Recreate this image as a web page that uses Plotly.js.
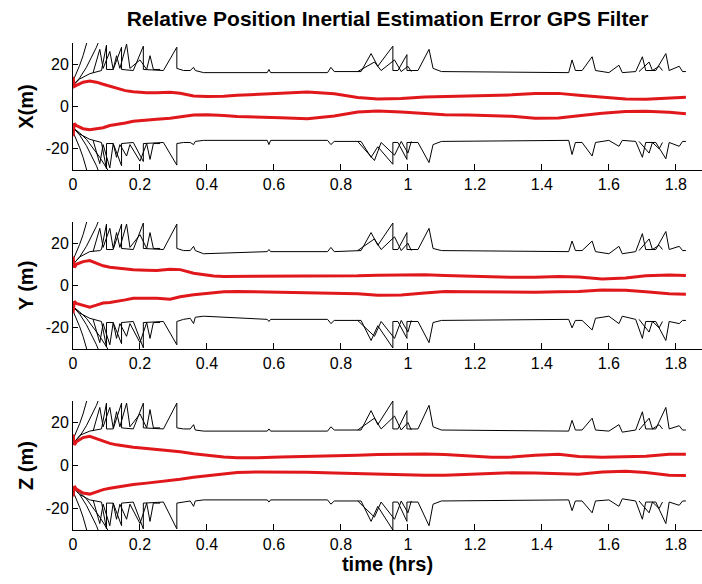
<!DOCTYPE html>
<html>
<head>
<meta charset="utf-8">
<script src="https://cdn.plot.ly/plotly-3.0.1.min.js"></script>
<style>html,body{margin:0;padding:0;background:#fff;}#chart{width:702px;height:584px;}</style>
</head>
<body>
<div id="chart"></div>
<script>
// ---------- shared time bases (hrs) ----------
const mainT = [0, 0.02, 0.05, 0.08, 0.085, 0.1, 0.1, 0.12, 0.145, 0.145, 0.18, 0.21, 0.21, 0.27, 0.31, 0.31, 0.33, 0.35, 0.36, 0.365, 0.39, 0.58, 0.585, 0.59, 0.76, 0.77, 0.78, 0.86, 0.89, 0.91, 0.955, 0.955, 0.97, 0.997, 0.997, 1.03, 1.063, 1.075, 1.1, 1.48, 1.49, 1.5, 1.52, 1.55, 1.56, 1.6, 1.63, 1.64, 1.68, 1.7, 1.71, 1.74, 1.77, 1.78, 1.81, 1.82, 1.83];
const secT = [0.06, 0.08, 0.09, 0.11, 0.12, 0.13, 0.14, 0.16, 0.17, 0.2, 0.22, 0.23, 0.24, 0.26, null, 0.85, 0.9, 0.92, 0.96, 0.98, 1.0, 1.01, null, 1.69, 1.72, 1.73, 1.75, 1.76];
const divTA = [0, 0.01, 0.02, 0.03, 0.04, 0.05];
const divTB = [0, 0.02, 0.04, 0.06, 0.07, 0.08];
const divTC = [0, 0.02, 0.04, 0.06, 0.08, 0.1, 0.12];
const redT = [0, 0.004, 0.01, 0.03, 0.05, 0.07, 0.09, 0.11, 0.13, 0.156, 0.18, 0.22, 0.25, 0.29, 0.32, 0.36, 0.4, 0.42, 0.45, 0.49, 0.55, 0.62, 0.7, 0.78, 0.85, 0.91, 0.98, 1.05, 1.11, 1.18, 1.25, 1.31, 1.38, 1.45, 1.51, 1.58, 1.65, 1.71, 1.78, 1.83];

// ---------- early diverging curves (m) ----------
const divUpA = [12, 15.5, 19.5, 24, 29, 35];
const divUpB = [10, 13.5, 18.5, 24.5, 28, 32];
const divLowA = [-12, -15.5, -19.5, -24, -29, -35];
const divLowB = [-10, -13.5, -18.5, -24.5, -28, -32];
const divLowC = [-10, -12.5, -15.5, -19.5, -24, -29, -34];

// ---------- X ----------
const xUpMain = [10, 13, 15.5, 16.5, 17, 29, 17.5, 17.5, 28, 17.5, 17, 28.5, 17.5, 17, 28, 18, 17, 17, 18.5, 17, 16, 16, 17.5, 16, 16, 18.5, 16.5, 16.5, 25, 19, 28.5, 17, 17, 24.5, 17, 17, 27, 18, 16.5, 16, 22, 17, 17, 23.5, 17, 16, 19.5, 16, 16.5, 23.5, 17, 17, 25, 17, 19, 16.5, 16.5];
const xUpSec = [16, 27, 18, 26, 17.5, 24, 18, 29.5, 18, 22, 17.5, 24, 17.5, 17.5, null, 16.5, 21, 17, 22, 16.5, 19, 16.5, null, 16.5, 21, 17, 19, 17];
const xLowMain = [-10, -13, -15.5, -16.5, -17, -29.5, -17.5, -17.5, -28, -17.5, -17, -26, -17.5, -17, -27.7, -17.5, -17, -17, -18, -16.5, -16, -16, -18, -16, -16, -18, -16.5, -16.5, -24, -19, -27.3, -17, -17, -25, -17, -17, -26.5, -18, -16.5, -16, -22.7, -17, -17, -23.4, -17, -16, -18.8, -16, -16.5, -24, -17, -17, -24.7, -17, -18.8, -16.5, -16.5];
const xLowSec = [-16, -27, -18, -29, -17.5, -24, -18, -23.4, -18, -25.8, -17.5, -25, -17.5, -17.5, null, -16.5, -25.5, -17, -23, -16.5, -22, -16.5, null, -16.5, -22, -17, -20, -17];
const xRedUp = [14, 9.5, 10, 11.5, 12, 11.5, 10.5, 9.5, 8.6, 7.5, 7, 6.5, 6.5, 6.7, 6.3, 5, 4.7, 4.7, 4.8, 5.3, 5.8, 6.4, 6.8, 6, 4.3, 3.5, 3.8, 4.5, 4.8, 4.8, 5.2, 5.5, 6.2, 6.2, 5.3, 4.3, 3.6, 3.4, 3.8, 4.4];
const xRedLow = [-14, -8, -9, -10.5, -11, -10.5, -10, -9, -8.6, -7.8, -7, -6.3, -6, -5.5, -5, -4, -3.9, -3.9, -4.2, -4.7, -4.9, -5.3, -5.8, -4.5, -2.6, -2.1, -2.6, -3.4, -3.9, -4, -4.2, -4.6, -5.5, -5.4, -4.4, -3.2, -2.4, -2.2, -2.7, -3.4];

// ---------- Y ----------
const yUpMain = [10, 13.5, 16, 16.5, 17, 29, 17, 17, 29, 17.5, 17, 29.5, 17.5, 17, 29, 17.5, 16.5, 16.5, 18.5, 16.5, 15, 16, 17, 16, 16, 18, 16, 16.5, 25, 19, 29.5, 17, 17, 25, 17, 17, 27, 17.5, 16.5, 16, 21, 16.5, 16.5, 21, 16, 15, 18.5, 15, 16, 24.5, 17, 17, 25.5, 17, 18.5, 16.5, 16.5];
const yUpSec = [16, 27, 18, 27, 17.5, 25, 18, 29, 18, 24, 17.5, 25, 17.5, 17.5, null, 16.5, 22, 17, 23, 16.5, 20, 16.5, null, 16.5, 22, 17, 19, 17];
const yLowMain = [-10, -13, -15.5, -16.5, -17, -29, -17.5, -17.5, -27.5, -17.5, -17, -29.5, -17.5, -17, -28, -17, -16, -15.5, -18, -15, -14.5, -16, -17, -16, -16, -18, -16.5, -16.5, -26, -19, -29.5, -17, -17, -25, -17, -17, -27, -17.5, -16.5, -16, -20, -16.5, -16.5, -21, -15.5, -14.5, -18, -14.5, -16, -25, -17, -17, -26, -17, -18, -16.5, -16.5];
const yLowSec = [-16, -27, -18, -28, -17.5, -25, -18, -24, -18, -27, -17.5, -25, -17.5, -17.5, null, -16.5, -24, -17, -25, -16.5, -22, -16.5, null, -16, -22, -17, -20, -17];
const yRedUp = [13.7, 8.5, 10, 11.3, 11.8, 10.5, 9.3, 8.6, 8.2, 7.8, 7.4, 7.2, 7.1, 7.7, 7.5, 5.8, 4.7, 4.5, 4.3, 4.3, 4.3, 4.3, 4.3, 4.4, 4.6, 4.9, 5.1, 5.1, 4.7, 4.3, 3.9, 3.9, 3.9, 4.3, 4.0, 3.1, 3.6, 4.6, 5.0, 4.7];
const yRedLow = [-13, -7.5, -8.5, -9.5, -10.2, -9.3, -8.3, -8, -7.6, -6.8, -6, -6, -6, -6.5, -5.3, -4.4, -3.6, -3.3, -2.9, -2.8, -3, -3.3, -3.3, -3.5, -3.9, -4.6, -4.5, -3.5, -2.8, -2.9, -3.1, -3.3, -3.2, -3, -2.8, -2.1, -2.2, -2.9, -3.9, -4.1];

// ---------- Z ----------
const zUpMain = [10, 14, 16, 17, 17, 29, 17, 17, 29, 17.5, 17, 29, 17.5, 17, 29, 17.5, 17, 17, 19, 16.5, 16, 16, 17, 16, 16, 18, 16.5, 16.5, 25.5, 19, 30, 17, 17, 25.5, 17, 17, 28, 18, 16.5, 16, 21, 16.5, 16.5, 22, 16.5, 16, 19, 15.5, 16.5, 25, 17, 17, 27, 17, 18.5, 16.5, 16.5];
const zUpSec = [16, 27, 18, 27, 17.5, 25, 18, 29, 18, 24, 17.5, 26, 17.5, 17.5, null, 16.5, 22, 17, 23, 16.5, 20, 16.5, null, 16.5, 22, 17, 19, 17];
const zLowMain = [-10, -13.5, -16, -17, -17, -29.5, -17.5, -17.5, -28, -17.5, -17, -29.5, -17.5, -17, -29.5, -17.5, -17, -16.5, -19, -16.5, -16, -16, -17, -16, -16, -18, -16.5, -16.5, -26, -19, -30, -17, -17, -26, -17, -17, -28, -18, -16.5, -16, -21, -16.5, -16.5, -22, -16.5, -16, -19, -15.5, -16.5, -25, -17, -17, -27, -17, -18.5, -16.5, -16.5];
const zLowSec = [-16, -27, -18, -28, -17.5, -25, -18, -25, -18, -27, -17.5, -26, -17.5, -17.5, null, -16.5, -24, -17, -25, -16.5, -22, -16.5, null, -16.5, -22, -17, -20, -17];
const zRedUp = [14.4, 9.6, 11, 13, 13.6, 12.5, 11.2, 10.3, 9.6, 9, 8.5, 7.9, 7.5, 6.8, 6.4, 5.5, 4.8, 4.4, 4, 3.6, 3.6, 4, 4.2, 4.5, 4.8, 5.1, 5.3, 5.3, 5.1, 4.5, 3.8, 3.9, 4.8, 5.2, 4.2, 3.8, 3.9, 4.3, 5.2, 5.2];
const zRedLow = [-14.4, -9.6, -11, -12.8, -13.3, -12.2, -11.2, -10.6, -10.1, -9.4, -8.8, -8.2, -7.7, -7, -6.4, -5.5, -4.8, -4.4, -4, -3.3, -3, -2.9, -3.1, -3.5, -3.8, -4.1, -4.3, -4.5, -4.5, -4.1, -3.5, -3.4, -3.5, -3.8, -4.1, -3, -2.7, -3.3, -4.5, -4.6];

// ---------- labels ----------
const titleText = 'Relative Position Inertial Estimation Error GPS Filter';
const yTitles = ['X(m)', 'Y (m)', 'Z (m)'];
const xTitleText = 'time (hrs)';
const xTickVals = [0, 0.2, 0.4, 0.6, 0.8, 1, 1.2, 1.4, 1.6, 1.8];
const xTickText = ['0', '0.2', '0.4', '0.6', '0.8', '1', '1.2', '1.4', '1.6', '1.8'];
const yTickVals = [-20, 0, 20];
const yTickText = ['-20', '0', '20'];

const panels = [
  {upMain: xUpMain, upSec: xUpSec, lowMain: xLowMain, lowSec: xLowSec, redUp: xRedUp, redLow: xRedLow},
  {upMain: yUpMain, upSec: yUpSec, lowMain: yLowMain, lowSec: yLowSec, redUp: yRedUp, redLow: yRedLow},
  {upMain: zUpMain, upSec: zUpSec, lowMain: zLowMain, lowSec: zLowSec, redUp: zRedUp, redLow: zRedLow}
];

const BLACK = {color: '#000000', width: 1};
const RED = {color: '#e0181c', width: 3};
const traces = [];
panels.forEach((p, i) => {
  const xa = i === 0 ? 'x' : 'x' + (i + 1);
  const ya = i === 0 ? 'y' : 'y' + (i + 1);
  const add = (x, y, line) => traces.push({x: x, y: y, xaxis: xa, yaxis: ya, type: 'scatter', mode: 'lines', line: line, connectgaps: false, hoverinfo: 'skip', showlegend: false});
  add(mainT, p.upMain, BLACK);
  add(secT, p.upSec, BLACK);
  add(mainT, p.lowMain, BLACK);
  add(secT, p.lowSec, BLACK);
  add(divTA, divUpA, BLACK);
  add(divTB, divUpB, BLACK);
  add(divTA, divLowA, BLACK);
  add(divTB, divLowB, BLACK);
  add(divTC, divLowC, BLACK);
  add(redT, p.redUp, RED);
  add(redT, p.redLow, RED);
});

const FONT = 'Liberation Sans, Arial, Helvetica, sans-serif';
const H = 584;
const pxDomain = [[43, 170], [222, 349], [401, 530]];
const layout = {
  width: 702, height: 584,
  margin: {l: 73, r: 0, t: 0, b: 0},
  paper_bgcolor: '#ffffff', plot_bgcolor: '#ffffff',
  showlegend: false,
  title: {text: '<b>' + titleText + '</b>', font: {family: FONT, size: 21, color: '#000'}, x: 0.5, xref: 'paper', y: 1 - 19 / H, yref: 'container', yanchor: 'middle'}
};
for (let i = 0; i < 3; i++) {
  const sx = i === 0 ? '' : String(i + 1);
  const xa = {
    domain: [0, 1], anchor: 'y' + sx, range: [0, 1.878],
    showline: true, linecolor: '#000', linewidth: 1, mirror: false,
    showgrid: false, zeroline: false,
    ticks: 'inside', ticklen: 6, tickcolor: '#000', tickwidth: 1,
    tickmode: 'array', tickvals: xTickVals, ticktext: xTickText,
    tickfont: {family: FONT, size: 16, color: '#000'}
  };
  if (i === 2) xa.title = {text: '<b>' + xTitleText + '</b>', font: {family: FONT, size: 20, color: '#000'}, standoff: 4};
  const d = pxDomain[i];
  const ya = {
    domain: [1 - d[1] / H, 1 - d[0] / H], anchor: 'x' + sx, range: [-30, 30],
    showline: true, linecolor: '#000', linewidth: 1, mirror: false,
    showgrid: false, zeroline: false,
    ticks: 'inside', ticklen: 5, tickcolor: '#000', tickwidth: 1,
    tickmode: 'array', tickvals: yTickVals, ticktext: yTickText,
    tickfont: {family: FONT, size: 16, color: '#000'},
    title: {text: '<b>' + yTitles[i] + '</b>', font: {family: FONT, size: 20, color: '#000'}, standoff: 6}
  };
  layout['xaxis' + sx] = xa;
  layout['yaxis' + sx] = ya;
}

Plotly.newPlot('chart', traces, layout, {staticPlot: true, displayModeBar: false});
</script>
</body>
</html>
